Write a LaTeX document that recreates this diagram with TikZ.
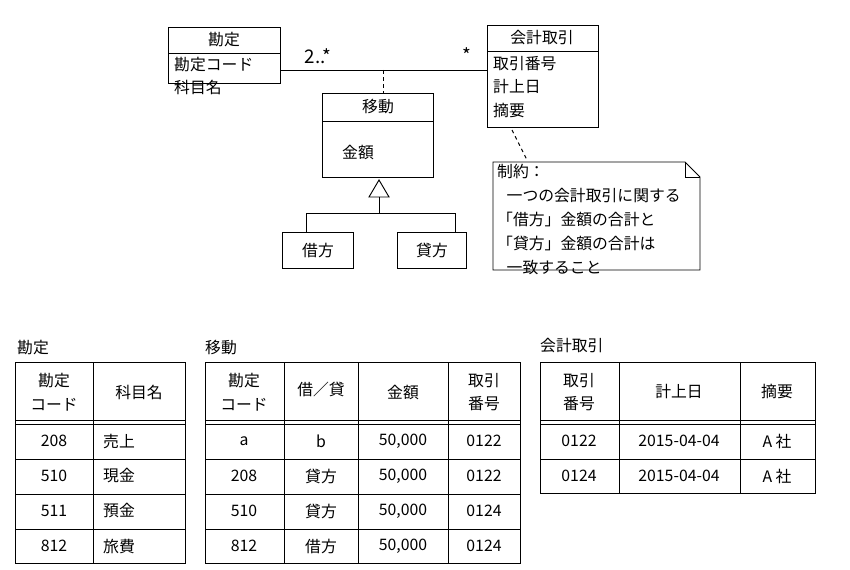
\documentclass[tikz,border=0pt]{standalone}
\usepackage{fontspec}
\setmainfont{Noto Sans CJK JP}
\usetikzlibrary{positioning}
\tikzset{
	txt/.style={font=\fontsize{13.5}{20}\selectfont, inner sep=0pt},
	box/.style={draw, thick, fill=white},
}
\begin{document}
\begin{tikzpicture}[x=0.03cm, y=-0.03cm, txt]
	\useasboundingbox (0,0) rectangle (850,570);
	% Klassen
	\draw[box] (168,27) rectangle (280,83);
	\draw[thick] (168,53) -- (280,53);
	\node (kanjo) at (224,40) {勘定};
	\node[anchor=north west, align=left] (kanjoattr) at (174,57) {勘定コード\\科目名};
	\draw[box] (487,25) rectangle (598,127);
	\draw[thick] (487,51) -- (598,51);
	\node (torihiki) at (542,38) {会計取引};
	\node[anchor=north west, align=left] (torihikiattr) at (493,56) {取引番号\\計上日\\摘要};
	\coordinate (kl) at (280,70);
	\coordinate (tl) at (487,70);
	\draw[thick] (kl) -- (tl);
	\node (m1) at (318,56) {\fontsize{16}{16}\selectfont 2..*};
	\node (m2) at (467,55) {\fontsize{16}{16}\selectfont *};
	\draw[box] (322,93) rectangle (433,177);
	\draw[thick] (322,121) -- (433,121);
	\node (ido) at (378,107) {移動};
	\node (kingaku) at (358,152) {金額};
	\coordinate (assoc) at (383,70);
	\coordinate (idotop) at (383,93);
	\draw[thick, dashed] (assoc) -- (idotop);
	% Generalisierung
	\coordinate (tri) at (379,180);
	\draw[thick, fill=white] (tri) -- (389,197) -- (369,197) -- cycle;
	\node[box, minimum width=71*0.03cm, minimum height=36*0.03cm] (kari) at (318,250) {借方};
	\node[box, minimum width=69*0.03cm, minimum height=36*0.03cm] (kashi) at (432,250) {貸方};
	\draw[thick] (379,197) -- (379,213) -- (306,213) -- (306,232);
	\draw[thick] (379,213) -- (455,213) -- (455,232);
	% Notiz
	\draw[box] (493,162) -- (685,162) -- (700,177) -- (700,270) -- (493,270) -- cycle;
	\draw[thick] (685,162) -- (685,177) -- (700,177);
	\node[anchor=north west, align=left, font=\fontsize{13.5}{20.5}\selectfont] (note) at (497,164)
		{制約：\\\hspace{0.6em}一つの会計取引に関する\\「借方」金額の合計と\\「貸方」金額の合計は\\\hspace{0.6em}一致すること};
	\coordinate (nt) at (512,130);
	\coordinate (nb) at (527,160);
	\draw[thick, dashed] (nt) -- (nb);

	% Tabellen
	\node[anchor=west] (t1) at (17,348) {勘定};
	\node[anchor=west] (t2) at (205,348) {移動};
	\node[anchor=west] (t3) at (540,346) {会計取引};
	% Tabelle 勘定
	\draw[box] (15,362) rectangle (185,563);
	\draw[thick] (93,362) -- (93,563);
	\draw[thick] (15,420) -- (185,420) (15,424) -- (185,424);
	\foreach \y in {459,494,529}
		\draw[thick] (15,\y) -- (185,\y);
	\node[align=center] at (54,392) {勘定\\コード};
	\node at (139,392) {科目名};
	\foreach \c/\n [count=\i] in {208/売上,510/現金,511/預金,812/旅費}{
		\node at (54,406+35*\i) {\c};
		\node[anchor=west] at (103,406+35*\i) {\n};
	}
	% Tabelle 移動
	\draw[box] (205,362) rectangle (520,563);
	\foreach \x in {284,358,448}
		\draw[thick] (\x,362) -- (\x,563);
	\draw[thick] (205,420) -- (520,420) (205,424) -- (520,424);
	\foreach \y in {459,494,529}
		\draw[thick] (205,\y) -- (520,\y);
	\node[align=center] at (244,392) {勘定\\コード};
	\node at (321,389) {借／貸};
	\node at (403,392) {金額};
	\node[align=center] at (484,392) {取引\\番号};
	\foreach \a/\b/\n [count=\i] in {a/b/0122,208/貸方/0122,510/貸方/0124,812/借方/0124}{
		\node at (244,406+35*\i) {\a};
		\node at (321,406+35*\i) {\b};
		\node at (403,406+35*\i) {50{,}000};
		\node at (484,406+35*\i) {\n};
	}
	% Tabelle 会計取引
	\draw[box] (540,362) rectangle (815,493);
	\draw[thick] (619,362) -- (619,493) (740,362) -- (740,493);
	\draw[thick] (540,420) -- (815,420) (540,424) -- (815,424);
	\draw[thick] (540,459) -- (815,459);
	\node[align=center] at (579,392) {取引\\番号};
	\node at (679,392) {計上日};
	\node at (777,392) {摘要};
	\foreach \n [count=\i] in {0122,0124}{
		\node at (579,406+35*\i) {\n};
		\node at (679,406+35*\i) {2015-04-04};
		\node at (777,406+35*\i) {A 社};
	}
\end{tikzpicture}
\end{document}
